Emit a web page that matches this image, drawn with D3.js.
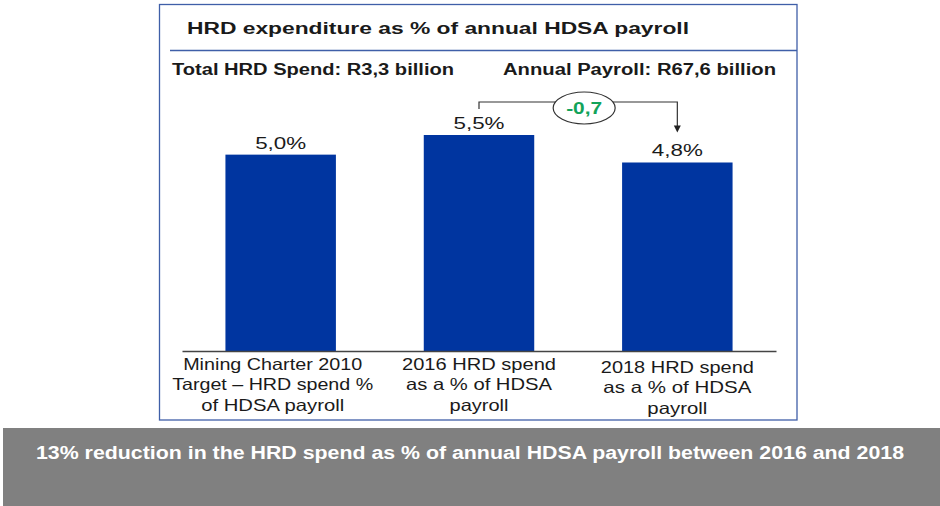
<!DOCTYPE html>
<html><head><meta charset="utf-8">
<script src="https://cdn.jsdelivr.net/npm/d3@7/dist/d3.min.js"></script>
<style>
html,body{margin:0;padding:0;background:#fff;}
svg{display:block;font-family:"Liberation Sans",Arial,sans-serif;}
</style></head>
<body>
<svg id="c" width="940" height="506"></svg>
<script>
// ---- data ----
const categories = ["Mining Charter 2010 Target", "2016 HRD spend", "2018 HRD spend"];
const categoryLines = [
  ["Mining Charter 2010", "Target \u2013 HRD spend %", "of HDSA payroll"],
  ["2016 HRD spend", "as a % of HDSA", "payroll"],
  ["2018 HRD spend", "as a % of HDSA", "payroll"]
];
const values = [5.0, 5.5, 4.8];
const valueLabels = ["5,0%", "5,5%", "4,8%"];
const changeLabel = "-0,7";
const titleText = "HRD expenditure as % of annual HDSA payroll";
const subLeft = "Total HRD Spend: R3,3 billion";
const subRight = "Annual Payroll: R67,6 billion";
const footerText = "13% reduction in the HRD spend as % of annual HDSA payroll between 2016 and 2018";

// ---- layout (positions / sizes / styles) ----
const blue = "#0035a0", frame = "#3f5fa8", ink = "#1a1a1a";
const catWidths = [[179, 201, 143], [154, 146, 59], [153, 148, 60]];
const catDx = [-8, 0, 0], catDy = [0, 0, 3];

const svg = d3.select("#c");

function fit(sel, w) {
  sel.attr("textLength", w).attr("lengthAdjust", "spacingAndGlyphs");
  return sel;
}

// footer band
svg.append("rect").attr("x", 3).attr("y", 428).attr("width", 937).attr("height", 78).attr("fill", "#808080");
fit(svg.append("text").attr("x", 36).attr("y", 459).attr("fill", "#fff")
  .attr("font-size", 18).attr("font-weight", "bold").text(footerText), 868);

// frame
svg.append("rect").attr("x", 159.5).attr("y", 4.5).attr("width", 637.5).attr("height", 415.5)
  .attr("fill", "none").attr("stroke", frame).attr("stroke-width", 1.3);
svg.append("line").attr("x1", 170).attr("x2", 797).attr("y1", 50.5).attr("y2", 50.5)
  .attr("stroke", frame).attr("stroke-width", 1.3);

fit(svg.append("text").attr("x", 187).attr("y", 34).attr("fill", ink)
  .attr("font-size", 16).attr("font-weight", "bold").text(titleText), 502);
fit(svg.append("text").attr("x", 172).attr("y", 75).attr("fill", ink)
  .attr("font-size", 16).attr("font-weight", "bold").text(subLeft), 282);
fit(svg.append("text").attr("x", 503).attr("y", 75).attr("fill", ink)
  .attr("font-size", 16).attr("font-weight", "bold").text(subRight), 273);

// scales
const x = d3.scaleBand().domain(categories).range([182, 776]).paddingInner(0.443).paddingOuter(0.219);
const y = d3.scaleLinear().domain([0, 5.5]).range([351, 135]);

// bars
svg.append("g").selectAll("rect").data(values).join("rect")
  .attr("x", (d, i) => x(categories[i]))
  .attr("y", d => y(d))
  .attr("width", x.bandwidth())
  .attr("height", d => y(0) - y(d))
  .attr("fill", blue);

// axis baseline
const axis = d3.axisBottom(x).tickSize(0).tickFormat("");
const ag = svg.append("g").attr("transform", `translate(0,${y(0)})`).call(axis);
ag.select(".domain").attr("stroke", "#444").attr("stroke-width", 1.3);

// value labels
svg.append("g").selectAll("text").data(values).join("text")
  .attr("x", (d, i) => x(categories[i]) + x.bandwidth() / 2)
  .attr("y", d => y(d) - 6)
  .attr("text-anchor", "middle").attr("font-size", 17).attr("fill", ink)
  .text((d, i) => valueLabels[i])
  .attr("textLength", 51).attr("lengthAdjust", "spacingAndGlyphs");

// category labels
categoryLines.forEach((lines, i) => {
  const cx = x(categories[i]) + x.bandwidth() / 2 + catDx[i];
  lines.forEach((ln, j) => {
    fit(svg.append("text").attr("x", cx).attr("y", 370 + catDy[i] + j * 20.3)
      .attr("text-anchor", "middle").attr("font-size", 16.5).attr("fill", ink).text(ln), catWidths[i][j]);
  });
});

// change bracket
const xa = x(categories[1]) + x.bandwidth() / 2;
const xb = x(categories[2]) + x.bandwidth() / 2;
const by = y(values[1]) - 33;
const ecx = (xa + xb) / 2 + 6, ecy = by + 6;
svg.append("path")
  .attr("d", `M${xa},${by + 7}V${by}H${xb}V${y(values[2]) - 36}`)
  .attr("fill", "none").attr("stroke", "#333").attr("stroke-width", 1.2);
const tip = y(values[2]) - 30;
svg.append("path").attr("d", `M${xb - 3.5},${tip - 7}L${xb + 3.5},${tip - 7}L${xb},${tip}Z`).attr("fill", "#222");
svg.append("ellipse").attr("cx", ecx).attr("cy", ecy).attr("rx", 31).attr("ry", 16)
  .attr("fill", "#fff").attr("stroke", "#333").attr("stroke-width", 1.2);
fit(svg.append("text").attr("x", ecx).attr("y", ecy + 6).attr("text-anchor", "middle")
  .attr("font-size", 17).attr("font-weight", "bold").attr("fill", "#12a35a").text(changeLabel), 36);
</script>
</body></html>
